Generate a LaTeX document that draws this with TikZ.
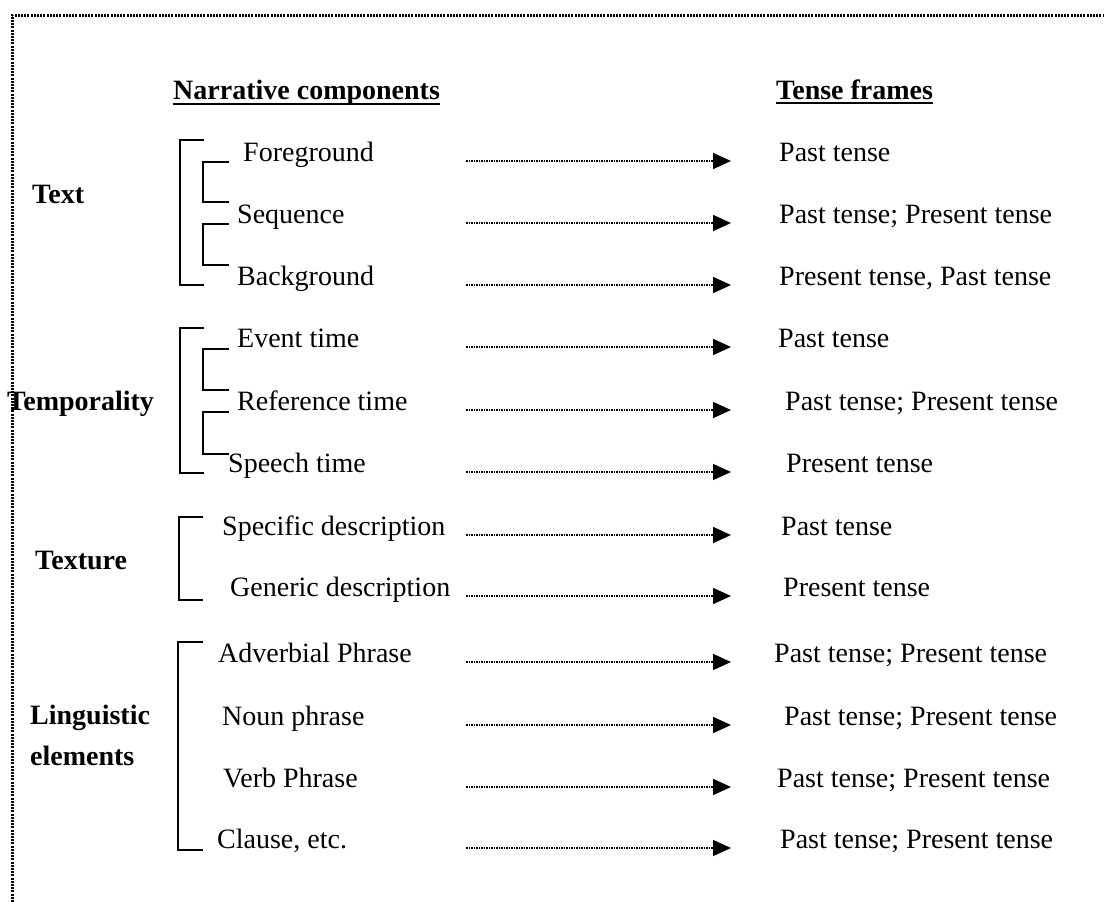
\documentclass[tikz,border=0pt]{standalone}
\usepackage{fontspec}
\setmainfont{Liberation Serif}
\usetikzlibrary{arrows.meta}
\tikzset{
  lbl/.style={anchor=base west, inner sep=0pt, font=\fontsize{28}{32}\selectfont},
  grp/.style={anchor=base west, inner sep=0pt, font=\fontsize{28}{32}\selectfont\bfseries},
  conn/.style={line width=1.7pt, dash pattern=on 1.5pt off 1pt, -{Triangle[length=18pt,width=16pt]}},
  brk/.style={line width=2.8pt},
  border/.style={line width=3pt, dash pattern=on 2pt off 1.2pt},
  uline/.style={line width=2.5pt},
}
\newcommand\mkrow[6]{%
  \node[lbl] (#1) at (#3,#2) {#4};
  \node[lbl] (#1t) at (#5,#2) {#6};
  \coordinate (#1s) at (466,#2);
  \coordinate (#1e) at (731,#2);
  \draw[conn] (#1s) -- (#1e);
}
\begin{document}
\begin{tikzpicture}[x=1pt,y=-1pt]
\useasboundingbox (0,0) rectangle (1104,902);
% border
\coordinate (bl) at (12,902);
\coordinate (tl) at (12,15);
\coordinate (tr) at (1104,15);
\draw[border] (bl) -- (tl) -- (tr);
% headers
\node[grp] (hnc) at (173,99) {Narrative components};
\node[grp] (htf) at (776,99) {Tense frames};
\draw[uline] ([yshift=-5pt]hnc.base west) -- ([yshift=-5pt]hnc.base east);
\draw[uline] ([yshift=-4pt]htf.base west) -- ([yshift=-4pt]htf.base east);
% group labels
\node[grp] (gtext) at (32,203) {Text};
\node[grp] (gtemp) at (7,410) {Temporality};
\node[grp] (gtex) at (35,569) {Texture};
\node[grp] (gling) at (30,724) {Linguistic};
\node[grp] (gelem) at (30,765) {elements};
% rows
\mkrow{fg}{161}{243}{Foreground}{779}{Past tense}
\mkrow{sq}{223}{237}{Sequence}{779}{Past tense; Present tense}
\mkrow{bg}{285}{237}{Background}{779}{Present tense, Past tense}
\mkrow{ev}{347}{237}{Event time}{778}{Past tense}
\mkrow{rf}{410}{237}{Reference time}{785}{Past tense; Present tense}
\mkrow{sp}{472}{228}{Speech time}{786}{Present tense}
\mkrow{sd}{535}{222}{Specific description}{781}{Past tense}
\mkrow{gd}{596}{230}{Generic description}{783}{Present tense}
\mkrow{ap}{662}{218}{Adverbial Phrase}{774}{Past tense; Present tense}
\mkrow{np}{725}{222}{Noun phrase}{784}{Past tense; Present tense}
\mkrow{vp}{787}{223}{Verb Phrase}{777}{Past tense; Present tense}
\mkrow{cl}{848}{217}{Clause, etc.}{780}{Past tense; Present tense}
% brackets: Text
\draw[brk] (204,140) -- (180,140) -- (180,285) -- (204,285);
\draw[brk] (229,162) -- (203,162) -- (203,202) -- (229,202);
\draw[brk] (229,224) -- (203,224) -- (203,265) -- (229,265);
% brackets: Temporality
\draw[brk] (204,328) -- (180,328) -- (180,473) -- (204,473);
\draw[brk] (229,349) -- (203,349) -- (203,390) -- (229,390);
\draw[brk] (229,412) -- (203,412) -- (203,454) -- (229,454);
% brackets: Texture
\draw[brk] (203,517) -- (179,517) -- (179,600) -- (203,600);
% brackets: Linguistic elements
\draw[brk] (203,642) -- (178,642) -- (178,850) -- (203,850);
\end{tikzpicture}
\end{document}
